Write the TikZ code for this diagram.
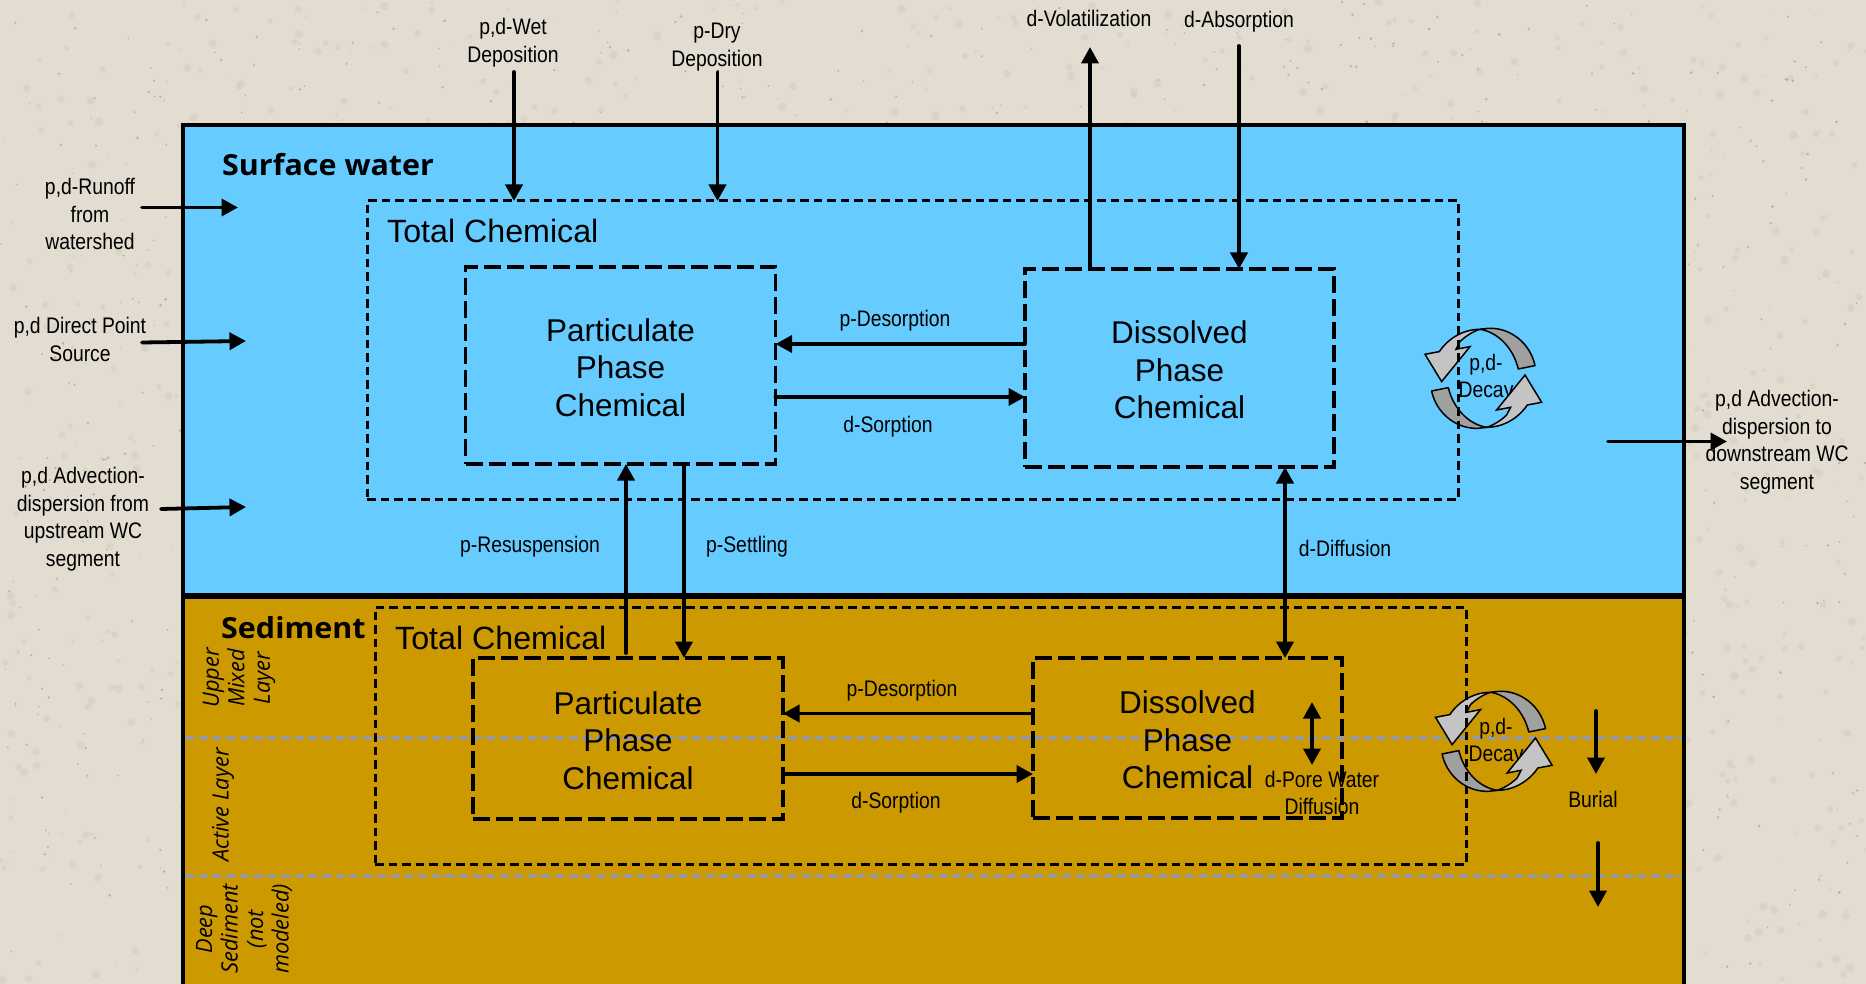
\documentclass[tikz,border=0pt]{standalone}
\usepackage{fontspec}
\usetikzlibrary{arrows.meta}
\setmainfont{Liberation Sans}[FakeStretch=0.86]
\newfontfamily\bigf{Liberation Sans}
\newfontfamily\headf{Open Sans}[FakeStretch=1.05]
\newfontfamily\layerf{Open Sans}[FakeStretch=0.97]
\newcommand{\dropline}{\rule{0pt}{27pt}}
\definecolor{paper}{HTML}{E2DCD1}
\definecolor{speck}{HTML}{A39C8D}
\definecolor{paperdark}{HTML}{D2CBBE}
\definecolor{water}{HTML}{66CCFF}
\definecolor{sedim}{HTML}{CC9900}
\definecolor{greydash}{HTML}{999999}
\definecolor{arcdark}{HTML}{A0A0A0}
\definecolor{arclight}{HTML}{C4C4C4}
\tikzset{
  x=1pt,y=-1pt,
  flow/.style={line width=3.8pt,line cap=round,-{Triangle[length=16.5pt,width=17pt]}},
  flowboth/.style={line width=3.8pt,{Triangle[length=16.5pt,width=17pt]}-{Triangle[length=16.5pt,width=17pt]}},
  lab/.style={inner sep=0pt,align=center,text=black,font=\fontsize{22.5}{27.6}\selectfont},
  head/.style={inner sep=0pt,anchor=west,font=\headf\bfseries\fontsize{29}{34}\selectfont},
  total/.style={inner sep=0pt,anchor=west,font=\bigf\fontsize{32.2}{38}\selectfont},
  bigtext/.style={align=center,font=\bigf\fontsize{31.5}{37.5}\selectfont},
  layer/.style={inner sep=0pt,align=center,rotate=90,font=\layerf\itshape\fontsize{22.5}{25.5}\selectfont},
  outerbox/.style={draw,line width=3pt,dash pattern=on 8.5pt off 5pt,inner sep=0pt,outer sep=0pt},
  innerbox/.style={draw,line width=3.3pt,dash pattern=on 17pt off 6pt,inner sep=0pt,outer sep=0pt},
  layerline/.style={draw=greydash,line width=3.3pt,dash pattern=on 9pt off 4.7pt},
  decaysym/.pic={
    \foreach \r in {0,180}{
      \begin{scope}[rotate=\r]
      \filldraw[fill=arcdark,line width=1.5pt,line join=round]
        (51.7,-12.7) .. controls (47,-35) and (27,-51) .. (5,-50) -- (-3.3,-49)
        .. controls (15,-46) and (30,-30) .. (35,-9.3) -- cycle;
      \filldraw[fill=arclight,line width=1.5pt,line join=miter]
        (-3.3,-49) .. controls (-20,-49) and (-35,-40) .. (-44,-26.7)
        -- (-58.3,-24) -- (-41.7,3.3) -- (-13.3,-31.7) -- (-27.3,-29) -- (-23.3,-36.7)
        .. controls (-18,-42) and (-10,-47) .. (-3.3,-49) -- cycle;
      \end{scope}
    }
  }
}
\begin{document}
\begin{tikzpicture}
\useasboundingbox (0,0) rectangle (1866,984);
\clip (0,0) rectangle (1866,984);
\fill[paper] (0,0) rectangle (1866,984);
\pgfmathsetseed{11}
\foreach \i in {1,...,1400}{
  \pgfmathsetmacro{\px}{rnd*1866}\pgfmathsetmacro{\py}{rnd*984}\pgfmathsetmacro{\pr}{1.5+rnd*3}
  \fill[paperdark,opacity=.45] (\px,\py) circle[radius=\pr];
}
\foreach \i in {1,...,1100}{
  \pgfmathsetmacro{\px}{rnd*1866}\pgfmathsetmacro{\py}{rnd*984}\pgfmathsetmacro{\pr}{.5+rnd*1}
  \fill[speck,opacity=.65] (\px,\py) circle[radius=\pr];
}
% panels
\fill[water] (183,125) rectangle (1684,594);
\fill[sedim] (183,597) rectangle (1684,990);
\draw[line width=4pt] (183,990) -- (183,125) -- (1684,125) -- (1684,990);
\draw[line width=6pt] (183,595.5) -- (1684,595.5);
\coordinate (lineAL) at (185,738); \coordinate (lineAR) at (1682,738);
\coordinate (lineBL) at (185,876); \coordinate (lineBR) at (1682,876);
\draw[layerline] (lineAL) -- (lineAR);
\draw[layerline] (lineBL) -- (lineBR);
% decay symbols (text lies under the arrows)
\node[lab] (decayW) at (1486,378) {p,d-\\Decay};
\node[lab] (decayS) at (1496,742) {p,d-\\Decay};
\pic at (1483.3,378.3) {decaysym};
\pic at (1493.8,741.3) {decaysym};
% boxes
\node[outerbox,minimum width=1091pt,minimum height=298pt] (totW) at (912.5,350) {};
\node[outerbox,minimum width=1091pt,minimum height=257pt] (totS) at (920.5,735.5) {};
\node[innerbox,bigtext,minimum width=310pt,minimum height=197pt] (parW) at (620.5,365.5) {\dropline Particulate\\Phase\\Chemical};
\node[innerbox,bigtext,minimum width=309pt,minimum height=198pt] (disW) at (1179.5,368) {\dropline Dissolved\\Phase\\Chemical};
\node[innerbox,bigtext,minimum width=310pt,minimum height=161pt] (parS) at (628,738.5) {\dropline Particulate\\Phase\\Chemical};
\node[innerbox,bigtext,minimum width=309pt,minimum height=160pt] (disS) at (1187.5,738) {\dropline Dissolved\\Phase\\Chemical};
% headings
\node[head] (surf) at (222,165) {Surface water};
\node[head] (sedi) at (221,628) {Sediment};
\node[total] (totWl) at (387,231) {Total Chemical};
\node[total] (totSl) at (395,638) {Total Chemical};
% layer labels
\node[layer] (l1) at (239,678) {Upper\\Mixed\\Layer};
\node[layer] (l2) at (223,805) {Active Layer};
\node[layer] (l3) at (244,929) {Deep\\Sediment\\(not\\modeled)};
% outside labels
\node[lab] (wet) at (513,42.5) {p,d-Wet\\Deposition};
\node[lab] (dry) at (717,47) {p-Dry\\Deposition};
\node[lab] (vol) at (1089,18) {d-Volatilization};
\node[lab] (abs) at (1239,22) {d-Absorption};
\node[lab] (run) at (90,214) {p,d-Runoff\\from\\watershed};
\node[lab] (dir) at (80,339.5) {p,d Direct Point\\Source};
\node[lab] (adv) at (83,519) {p,d Advection-\\dispersion from\\upstream WC\\segment};
\node[lab] (dwn) at (1777,442) {p,d Advection-\\dispersion to\\downstream WC\\segment};
% inside labels
\node[lab] (desW) at (895,321) {p-Desorption};
\node[lab] (sorW) at (888,427) {d-Sorption};
\node[lab] (res) at (530,547) {p-Resuspension};
\node[lab] (set) at (747,547) {p-Settling};
\node[lab] (dif) at (1345,548) {d-Diffusion};
\node[lab] (desS) at (902,691) {p-Desorption};
\node[lab] (sorS) at (896,803) {d-Sorption};
\node[lab] (por) at (1322,793) {d-Pore Water\\Diffusion};
\node[lab] (bur) at (1593,799) {Burial};
% free ends
\coordinate (wetS) at (514,72);
\coordinate (dryS) at (717.5,72);
\coordinate (volE) at (1090,47);
\coordinate (absS) at (1239,46);
\coordinate (runS) at (142,207.5); \coordinate (runE) at (238,207.5);
\coordinate (dirS) at (142,342.5); \coordinate (dirE) at (246,341);
\coordinate (advS) at (161,509);   \coordinate (advE) at (246,507);
\coordinate (dwnS) at (1608,441.5);\coordinate (dwnE) at (1727,441.5);
\coordinate (porA) at (1312,702);  \coordinate (porB) at (1312,765);
\coordinate (burA) at (1596,711);  \coordinate (burB) at (1596,774);
\coordinate (burC) at (1598,843);  \coordinate (burD) at (1598,907);
% connectors
\draw[flow] (wetS) -- (wetS |- totW.north);
\draw[flow] (dryS) -- (dryS |- totW.north);
\draw[flow] (volE |- disW.north) -- (volE);
\draw[flow] (absS) -- (absS |- disW.north);
\draw[flow] (runS) -- (runE);
\draw[flow] (dirS) -- (dirE);
\draw[flow] (advS) -- (advE);
\draw[flow] (dwnS) -- (dwnE);
\draw[flow] (disW.west |- 0,344) -- (parW.east |- 0,344);
\draw[flow] (parW.east |- 0,397) -- (disW.west |- 0,397);
\draw[flow] (626,653) -- (626,653 |- parW.south);
\draw[flow] (684,0 |- parW.south) -- (684,0 |- parS.north);
\draw[flowboth] (1285,0 |- disW.south) -- (1285,0 |- disS.north);
\draw[flow] (disS.west |- 0,713.5) -- (parS.east |- 0,713.5);
\draw[flow] (parS.east |- 0,774) -- (disS.west |- 0,774);
\draw[flowboth] (porA) -- (porB);
\draw[flow] (burA) -- (burB);
\draw[flow] (burC) -- (burD);
\end{tikzpicture}
\end{document}
